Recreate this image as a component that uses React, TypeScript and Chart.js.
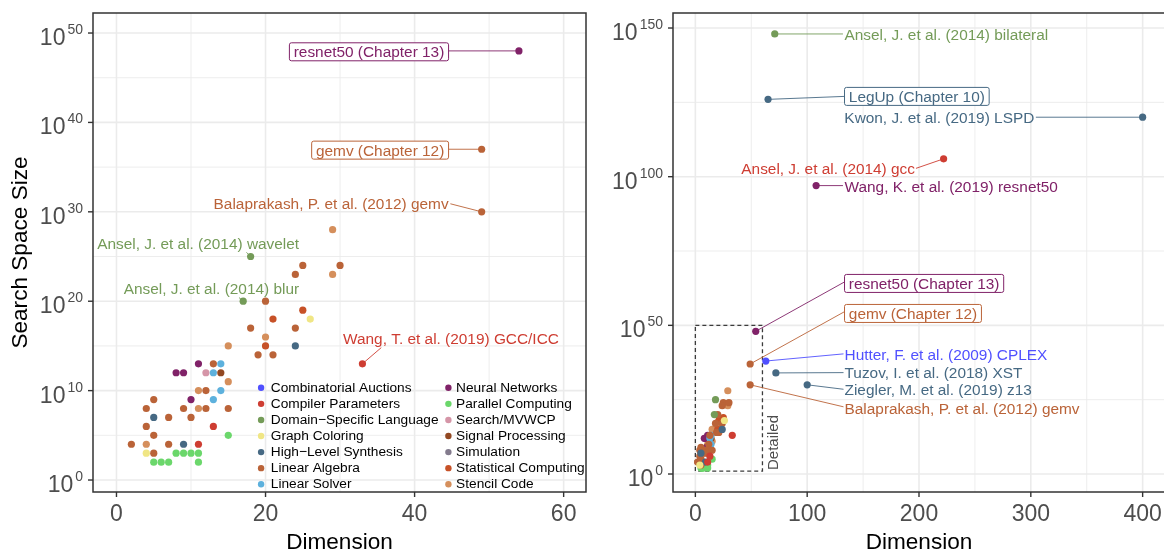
import React, { useEffect, useRef } from "react";
import { Chart, registerables } from "chart.js";

Chart.register(...registerables);

const FONT = '"Liberation Sans", Arial, Helvetica, sans-serif';

// ---------------- categories ----------------
const categories = [
  "Combinatorial Auctions",
  "Compiler Parameters",
  "Domain−Specific Language",
  "Graph Coloring",
  "High−Level Synthesis",
  "Linear Algebra",
  "Linear Solver",
  "Neural Networks",
  "Parallel Computing",
  "Search/MVWCP",
  "Signal Processing",
  "Simulation",
  "Statistical Computing",
  "Stencil Code",
];
const categoryColors = [
  "#5050FF", "#CE3D32", "#749B58", "#F0E685", "#466983", "#BA6338", "#5DB1DD",
  "#802268", "#6BD76B", "#D595A7", "#924822", "#837B8D", "#C75127", "#D58F5C",
];

// ---------------- data (dimension, log10 of search space size, category) ----------------
const dimension = [
  54, 49, 49, 33, 18, 17, 29, 25, 30, 24, 29, 20, 25, 21, 26, 18, 24, 20, 15, 20,
  24, 19, 21, 11, 13, 14, 8, 9, 12, 13, 14, 15, 11, 12, 14, 5, 10, 13, 4, 9,
  11, 12, 15, 5, 7, 10, 4, 13, 5, 15, 2, 4, 7, 9, 11, 4, 5, 8, 9, 10,
  11, 5, 6, 7, 11,
  71, 65, 400, 222, 108, 63, 72, 100,
];
const log10SearchSpace = [
  48, 37, 30, 13, 25, 20, 28, 24, 24, 23, 23, 20, 19, 18, 18, 17, 17, 16, 15, 15,
  15, 14, 14, 13, 13, 13, 12, 12, 12, 12, 12, 11, 10, 10, 10, 9, 9, 9, 8, 8,
  8, 8, 8, 7, 7, 7, 6, 6, 5, 5, 4, 4, 4, 4, 4, 3, 3, 3, 3, 3,
  3, 2, 2, 2, 2,
  148, 126, 120, 106, 97, 38, 34, 30,
];
const categoryIndex = [
  7, 5, 5, 1, 2, 2, 13, 5, 5, 5, 13, 5, 12, 12, 3, 5, 5, 13, 13, 12,
  4, 5, 5, 7, 5, 6, 7, 7, 9, 6, 10, 13, 13, 5, 6, 5, 7, 6, 5, 5,
  13, 5, 5, 4, 5, 5, 5, 1, 5, 8, 5, 13, 5, 4, 1, 3, 5, 8, 8, 8,
  8, 8, 8, 8, 8,
  2, 4, 4, 1, 7, 0, 4, 4,
];

// ---------------- ticks ----------------
const leftXTicks = [0, 20, 40, 60];
const leftXMinor = [10, 30, 50];
const leftYTicks = [0, 10, 20, 30, 40, 50];
const leftYMinor = [5, 15, 25, 35, 45];
const rightXTicks = [0, 100, 200, 300, 400];
const rightXMinor = [50, 150, 250, 350];
const rightYTicks = [0, 50, 100, 150];
const rightYMinor = [25, 75, 125];

// ---------------- annotation texts ----------------
const leftLabelTexts = [
  "resnet50 (Chapter 13)",
  "gemv (Chapter 12)",
  "Balaprakash, P. et al. (2012) gemv",
  "Ansel, J. et al. (2014) wavelet",
  "Ansel, J. et al. (2014) blur",
  "Wang, T. et al. (2019) GCC/ICC",
];
const rightLabelTexts = [
  "Ansel, J. et al. (2014) bilateral",
  "LegUp (Chapter 10)",
  "Kwon, J. et al. (2019) LSPD",
  "Ansel, J. et al. (2014) gcc",
  "Wang, K. et al. (2019) resnet50",
  "resnet50 (Chapter 13)",
  "gemv (Chapter 12)",
  "Hutter, F. et al. (2009) CPLEX",
  "Tuzov, I. et al. (2018) XST",
  "Ziegler, M. et al. (2019) z13",
  "Balaprakash, P. et al. (2012) gemv",
];

// ---------------- layout of annotations (data coordinates) ----------------
type Lbl = {
  text: string; cat: number; boxed: boolean; point: [number, number];
  at: [number, number]; align: "left" | "right"; end: [number, number];
};
const leftLabels: Lbl[] = [
  { text: leftLabelTexts[0], cat: 7, boxed: true, point: [54, 48], at: [44.56, 47.9], align: "right", end: [44.56, 48] },
  { text: leftLabelTexts[1], cat: 5, boxed: true, point: [49, 37], at: [44.56, 36.9], align: "right", end: [44.56, 37] },
  { text: leftLabelTexts[2], cat: 5, boxed: false, point: [49, 30], at: [44.56, 30.9], align: "right", end: [44.8, 30.9] },
  { text: leftLabelTexts[3], cat: 2, boxed: false, point: [18, 25], at: [24.5, 26.45], align: "right", end: [17.44, 25.47] },
  { text: leftLabelTexts[4], cat: 2, boxed: false, point: [17, 20], at: [24.5, 21.4], align: "right", end: [16.44, 20.41] },
  { text: leftLabelTexts[5], cat: 1, boxed: false, point: [33, 13], at: [30.4, 15.8], align: "left", end: [35.53, 14.81] },
];
const rightLabels: Lbl[] = [
  { text: rightLabelTexts[0], cat: 2, boxed: false, point: [71, 148], at: [133.4, 147.7], align: "left", end: [132, 148] },
  { text: rightLabelTexts[1], cat: 4, boxed: true, point: [65, 126], at: [133.4, 127.0], align: "left", end: [133.4, 127.0] },
  { text: rightLabelTexts[2], cat: 4, boxed: false, point: [400, 120], at: [303.1, 120.0], align: "right", end: [304.5, 120] },
  { text: rightLabelTexts[3], cat: 1, boxed: false, point: [222, 106], at: [196.4, 102.6], align: "right", end: [197.3, 102.8] },
  { text: rightLabelTexts[4], cat: 7, boxed: false, point: [108, 97], at: [133.4, 96.6], align: "left", end: [132, 97] },
  { text: rightLabelTexts[5], cat: 7, boxed: true, point: [54, 48], at: [133.4, 64.1], align: "left", end: [133.4, 64.6] },
  { text: rightLabelTexts[6], cat: 5, boxed: true, point: [49, 37], at: [133.4, 54.0], align: "left", end: [133.4, 54.6] },
  { text: rightLabelTexts[7], cat: 0, boxed: false, point: [63, 38], at: [133.4, 40.1], align: "left", end: [132.5, 40.4] },
  { text: rightLabelTexts[8], cat: 4, boxed: false, point: [72, 34], at: [133.4, 34.2], align: "left", end: [132.5, 34.1] },
  { text: rightLabelTexts[9], cat: 4, boxed: false, point: [100, 30], at: [133.4, 28.3], align: "left", end: [132.5, 28.5] },
  { text: rightLabelTexts[10], cat: 5, boxed: false, point: [49, 30], at: [133.4, 22.1], align: "left", end: [132.5, 22.6] },
];

type PanelCfg = {
  id: string;
  xMin: number; xMax: number; yMin: number; yMax: number;
  xTicks: number[]; xMinor: number[]; yTicks: number[]; yMinor: number[];
  labels: Lbl[];
  legend: boolean; yTitle: boolean; detailBox: boolean;
  canvasW: number; left: number; right: number; top: number; bottom: number;
  filter: (x: number, y: number) => boolean;
};

function line(ctx: CanvasRenderingContext2D, x1: number, y1: number, x2: number, y2: number) {
  ctx.beginPath();
  ctx.moveTo(x1, y1);
  ctx.lineTo(x2, y2);
  ctx.stroke();
}

function makePlugin(cfg: PanelCfg) {
  return {
    id: "panel-" + cfg.id,
    beforeDatasetsDraw(chart: any) {
      const { ctx, chartArea: a, scales } = chart;
      const x = scales.x, y = scales.y;
      ctx.save();
      ctx.strokeStyle = "#EBEBEB";
      ctx.lineWidth = 0.9;
      cfg.xMinor.forEach((v) => { const p = x.getPixelForValue(v); line(ctx, p, a.top, p, a.bottom); });
      cfg.yMinor.forEach((v) => { const p = y.getPixelForValue(v); line(ctx, a.left, p, a.right, p); });
      ctx.lineWidth = 1.6;
      cfg.xTicks.forEach((v) => { const p = x.getPixelForValue(v); line(ctx, p, a.top, p, a.bottom); });
      cfg.yTicks.forEach((v) => { const p = y.getPixelForValue(v); line(ctx, a.left, p, a.right, p); });
      if (cfg.detailBox) {
        const x0 = x.getPixelForValue(0), x1 = x.getPixelForValue(60);
        const y0 = y.getPixelForValue(1), y1 = y.getPixelForValue(50);
        ctx.strokeStyle = "#3C3C3C";
        ctx.lineWidth = 1.3;
        ctx.setLineDash([4, 3]);
        ctx.strokeRect(x0, y1, x1 - x0, y0 - y1);
        ctx.setLineDash([]);
      }
      ctx.restore();
    },
    afterDatasetsDraw(chart: any) {
      const { ctx, chartArea: a, scales } = chart;
      const x = scales.x, y = scales.y;
      ctx.save();
      // detail text
      if (cfg.detailBox) {
        const bx = x.getPixelForValue(60), by = y.getPixelForValue(1);
        ctx.save();
        ctx.translate(bx + 15.5, by - 1);
        ctx.rotate(-Math.PI / 2);
        ctx.font = `15px ${FONT}`;
        ctx.fillStyle = "#4D4D4D";
        ctx.textAlign = "left";
        ctx.textBaseline = "alphabetic";
        ctx.fillText("Detailed", 0, 0);
        ctx.restore();
      }
      // annotation labels
      ctx.font = `15.4px ${FONT}`;
      cfg.labels.forEach((L) => {
        const color = categoryColors[L.cat];
        const px = x.getPixelForValue(L.point[0]), py = y.getPixelForValue(L.point[1]);
        const ex = x.getPixelForValue(L.end[0]), ey = y.getPixelForValue(L.end[1]);
        ctx.strokeStyle = color;
        ctx.lineWidth = 0.9;
        line(ctx, px, py, ex, ey);
        const ax = x.getPixelForValue(L.at[0]), ay = y.getPixelForValue(L.at[1]);
        const tw = ctx.measureText(L.text).width;
        const pad = L.boxed ? 4.3 : 0;
        const left = L.align === "left" ? ax : ax - tw - 2 * pad;
        if (L.boxed) {
          ctx.fillStyle = "#FFFFFF";
          ctx.lineWidth = 1;
          ctx.beginPath();
          (ctx as any).roundRect(left, ay - 9, tw + 2 * pad, 18, 2);
          ctx.fill();
          ctx.stroke();
        }
        ctx.fillStyle = color;
        ctx.textAlign = "left";
        ctx.textBaseline = "alphabetic";
        ctx.fillText(L.text, left + pad, ay + 5.5);
      });
      // legend
      if (cfg.legend) {
        const cols = [{ dot: 261.1, text: 270.8 }, { dot: 448.4, text: 456.1 }];
        ctx.font = `13.7px ${FONT}`;
        ctx.textAlign = "left";
        ctx.textBaseline = "middle";
        categories.forEach((name, i) => {
          const col = cols[Math.floor(i / 7)];
          const yy = 387.8 + (i % 7) * 16.07;
          ctx.fillStyle = categoryColors[i];
          ctx.beginPath();
          ctx.arc(col.dot, yy, 3.2, 0, Math.PI * 2);
          ctx.fill();
          ctx.fillStyle = "#000000";
          ctx.fillText(name, col.text, yy + 0.5);
        });
      }
      // frame
      ctx.strokeStyle = "#333333";
      ctx.lineWidth = 1.5;
      ctx.strokeRect(a.left, a.top, a.right - a.left, a.bottom - a.top);
      // ticks
      ctx.lineWidth = 1.4;
      cfg.xTicks.forEach((v) => { const p = x.getPixelForValue(v); line(ctx, p, a.bottom, p, a.bottom + 5); });
      cfg.yTicks.forEach((v) => { const p = y.getPixelForValue(v); line(ctx, a.left - 5, p, a.left, p); });
      // tick labels
      ctx.fillStyle = "#4D4D4D";
      ctx.textBaseline = "alphabetic";
      ctx.font = `23px ${FONT}`;
      ctx.textAlign = "center";
      cfg.xTicks.forEach((v) => { ctx.fillText(String(v), x.getPixelForValue(v), 521); });
      ctx.textAlign = "left";
      cfg.yTicks.forEach((v) => {
        const p = y.getPixelForValue(v);
        ctx.font = `23px ${FONT}`;
        const mainW = ctx.measureText("10").width;
        ctx.font = `14px ${FONT}`;
        const expW = ctx.measureText(String(v)).width;
        const right = a.left - 10;
        const expX = right - expW;
        const mainX = expX - 2 - mainW;
        ctx.fillText(String(v), expX, p + 1);
        ctx.font = `23px ${FONT}`;
        ctx.fillText("10", mainX, p + 12);
      });
      // axis titles
      ctx.fillStyle = "#000000";
      ctx.font = `22.6px ${FONT}`;
      ctx.textAlign = "center";
      ctx.fillText("Dimension", (a.left + a.right) / 2, 549);
      if (cfg.yTitle) {
        ctx.save();
        ctx.translate(27, (a.top + a.bottom) / 2);
        ctx.rotate(-Math.PI / 2);
        ctx.fillText("Search Space Size", 0, 0);
        ctx.restore();
      }
      ctx.restore();
    },
  };
}

function buildDatasets(filter: (x: number, y: number) => boolean) {
  return categories.map((name, c) => ({
    label: name,
    data: dimension
      .map((xv, i) => ({ x: xv, y: log10SearchSpace[i], c: categoryIndex[i] }))
      .filter((p) => p.c === c && filter(p.x, p.y))
      .map((p) => ({ x: p.x, y: p.y })),
    backgroundColor: categoryColors[c],
    pointBackgroundColor: categoryColors[c],
    borderWidth: 0,
    pointBorderWidth: 0,
    pointRadius: 3.6,
  }));
}

function makeChart(canvas: HTMLCanvasElement, cfg: PanelCfg) {
  return new Chart(canvas, {
    type: "scatter",
    data: { datasets: buildDatasets(cfg.filter) as any },
    options: {
      responsive: false,
      animation: false,
      devicePixelRatio: 1,
      events: [],
      layout: { padding: { left: 0, top: cfg.top, right: cfg.canvasW - cfg.right, bottom: 0 } },
      plugins: { legend: { display: false }, tooltip: { enabled: false } },
      scales: {
        x: {
          type: "linear", min: cfg.xMin, max: cfg.xMax,
          grid: { display: false }, ticks: { display: false }, border: { display: false },
          afterFit: (s: any) => { s.height = 552 - cfg.bottom; },
        },
        y: {
          type: "linear", min: cfg.yMin, max: cfg.yMax,
          grid: { display: false }, ticks: { display: false }, border: { display: false },
          afterFit: (s: any) => { s.width = cfg.left; },
        },
      },
    } as any,
    plugins: [makePlugin(cfg) as any],
  });
}

const leftCfg: PanelCfg = {
  id: "left", xMin: -3.15, xMax: 63.0, yMin: -1.34, yMax: 52.24,
  xTicks: leftXTicks, xMinor: leftXMinor, yTicks: leftYTicks, yMinor: leftYMinor,
  labels: leftLabels, legend: true, yTitle: true, detailBox: false,
  canvasW: 590, left: 93, right: 586, top: 13, bottom: 492,
  filter: (xv, yv) => xv <= 60 && yv <= 50,
};
const rightCfg: PanelCfg = {
  id: "right", xMin: -20, xMax: 420, yMin: -6.05, yMax: 155.05,
  xTicks: rightXTicks, xMinor: rightXMinor, yTicks: rightYTicks, yMinor: rightYMinor,
  labels: rightLabels, legend: false, yTitle: false, detailBox: true,
  canvasW: 590, left: 83, right: 575, top: 13, bottom: 492,
  filter: () => true,
};

export default function App() {
  const leftRef = useRef<HTMLCanvasElement>(null);
  const rightRef = useRef<HTMLCanvasElement>(null);
  useEffect(() => {
    const c1 = makeChart(leftRef.current!, leftCfg);
    const c2 = makeChart(rightRef.current!, rightCfg);
    return () => { c1.destroy(); c2.destroy(); };
  }, []);
  return (
    <div style={{ position: "fixed", left: 0, top: 0, width: 1164, height: 552, overflow: "hidden", background: "#FFFFFF" }}>
      <canvas ref={leftRef} width={590} height={552} style={{ position: "absolute", left: 0, top: 0, width: 590, height: 552 }} />
      <canvas ref={rightRef} width={590} height={552} style={{ position: "absolute", left: 590, top: 0, width: 590, height: 552 }} />
    </div>
  );
}
